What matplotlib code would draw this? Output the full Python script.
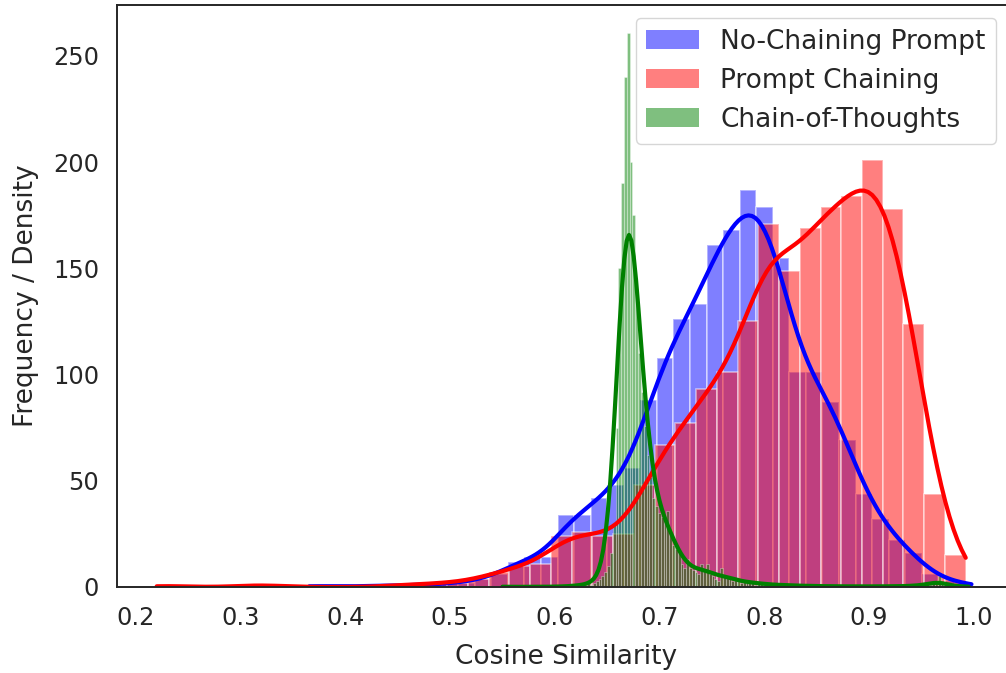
import numpy as np
import matplotlib
matplotlib.use("Agg")
import matplotlib.pyplot as plt
from matplotlib.patches import Patch

# ---------------- data ----------------
labels = ["No-Chaining Prompt", "Prompt Chaining", "Chain-of-Thoughts"]
colors = ["blue", "red", "green"]

# No-Chaining Prompt: 40 equal bins between min and max
no_chain_min, no_chain_max = 0.3655, 0.998
no_chain_counts = [1, 0, 0, 1, 0, 1, 1, 1, 2, 2,
                   4, 6, 12, 14, 14, 34, 34, 42, 48, 56,
                   88, 108, 126, 133, 161, 168, 187, 179, 155, 101,
                   101, 87, 69, 44, 32, 22, 16, 6, 3, 2]

# Prompt Chaining: 39 equal bins between min and max
chain_min, chain_max = 0.2198, 0.9925
chain_counts = [1, 0, 0, 0, 1, 1, 0, 0, 0, 0,
                0, 1, 1, 2, 2, 4, 7, 10, 11, 24,
                26, 24, 25, 48, 67, 77, 93, 101, 125, 171,
                149, 169, 179, 184, 201, 178, 124, 44, 15]

# Chain-of-Thoughts: 165 narrow equal bins between min and max
cot_min, cot_max = 0.550, 0.9955
cot_counts = [1, 0, 0, 0, 0, 0, 0, 0, 0, 0,
              1, 0, 0, 0, 0, 0, 0, 0, 1, 0,
              0, 0, 0, 1, 0, 1, 1, 0, 1, 1,
              2, 1, 2, 3, 4, 5, 7, 10, 16, 30,
              75, 150, 190, 240, 261, 200, 175, 140, 110, 92,
              76, 62, 52, 42, 38, 35, 33, 30, 36, 26,
              20, 18, 16, 11, 9, 13, 9, 8, 7, 6,
              11, 8, 11, 6, 5, 4, 3, 9, 5, 5,
              4, 3, 4, 3, 2, 3, 2, 2, 3, 1,
              2, 2, 1, 1, 2, 1, 1, 0, 1, 2,
              1, 0, 1, 1, 0, 1, 0, 1, 1, 0,
              0, 1, 0, 1, 0, 0, 1, 0, 0, 1,
              0, 0, 1, 0, 0, 0, 1, 0, 0, 1,
              0, 0, 0, 1, 0, 0, 1, 0, 0, 1,
              0, 0, 1, 0, 1, 0, 1, 1, 0, 1,
              2, 1, 2, 3, 5, 2, 1, 1, 0, 1,
              0, 0, 0, 0, 1]

xticks = [0.2, 0.3, 0.4, 0.5, 0.6, 0.7, 0.8, 0.9, 1.0]
yticks = [0, 50, 100, 150, 200, 250]
xlabel = "Cosine Similarity"
ylabel = "Frequency / Density"

series = [
    (no_chain_min, no_chain_max, no_chain_counts),
    (chain_min, chain_max, chain_counts),
    (cot_min, cot_max, cot_counts),
]
edge_lw = [1.2, 1.2, 0.45]

# ---------------- styling ----------------
TXT = "#262626"
plt.rcParams["font.family"] = ["DejaVu Sans"]

fig = plt.figure(figsize=(10.06, 6.73), dpi=100)
ax = fig.add_axes([117 / 1006, 86 / 673, 897.4 / 1006, 582 / 673])


def draw_series(ax, lo, hi, counts, color, lw):
    counts = np.asarray(counts, dtype=float)
    edges = np.linspace(lo, hi, len(counts) + 1)
    widths = np.diff(edges)
    centers = edges[:-1] + widths / 2
    ax.bar(edges[:-1], counts, width=widths, align="edge",
           color=color, alpha=0.5, edgecolor="white", linewidth=lw,
           zorder=1)
    # Gaussian KDE (Scott's rule) of the binned data, scaled to counts
    n = counts.sum()
    mean = np.sum(counts * centers) / n
    var = np.sum(counts * (centers - mean) ** 2) / (n - 1)
    bw = np.sqrt(var) * n ** (-0.2)
    grid = np.linspace(lo, hi, 200)
    z = (grid[:, None] - centers[None, :]) / bw
    dens = (counts[None, :] * np.exp(-0.5 * z ** 2)).sum(axis=1)
    dens /= n * bw * np.sqrt(2 * np.pi)
    ax.plot(grid, dens * n * widths[0], color=color, lw=3, zorder=2,
            solid_capstyle="round")


for (lo, hi, cnt), c, lw in zip(series, colors, edge_lw):
    draw_series(ax, lo, hi, cnt, c, lw)

ax.set_xlim(0.18185, 1.039)
ax.set_ylim(0, 274)
ax.set_xticks(xticks)
ax.set_xticklabels([f"{t:.1f}" for t in xticks])
ax.set_yticks(yticks)
ax.tick_params(axis="both", length=0, labelsize=17.3, colors=TXT)
ax.tick_params(axis="x", pad=14)
ax.tick_params(axis="y", pad=13)
ax.set_xlabel(xlabel, fontsize=19, color=TXT, labelpad=10)
ax.set_ylabel(ylabel, fontsize=19, color=TXT, labelpad=10)
for s in ax.spines.values():
    s.set_color(TXT)
    s.set_linewidth(1.4)

handles = [Patch(facecolor=c, alpha=0.5, edgecolor="none") for c in colors]
leg = ax.legend(handles, labels, loc="upper right",
                bbox_to_anchor=(996 / 1006, 1 - 18 / 673),
                bbox_transform=fig.transFigure, borderaxespad=0,
                fontsize=19, labelspacing=0.5, frameon=True,
                fancybox=True, framealpha=0.8, edgecolor="#cccccc")
for t in leg.get_texts():
    t.set_color(TXT)

fig.savefig("out.png", dpi=100)
